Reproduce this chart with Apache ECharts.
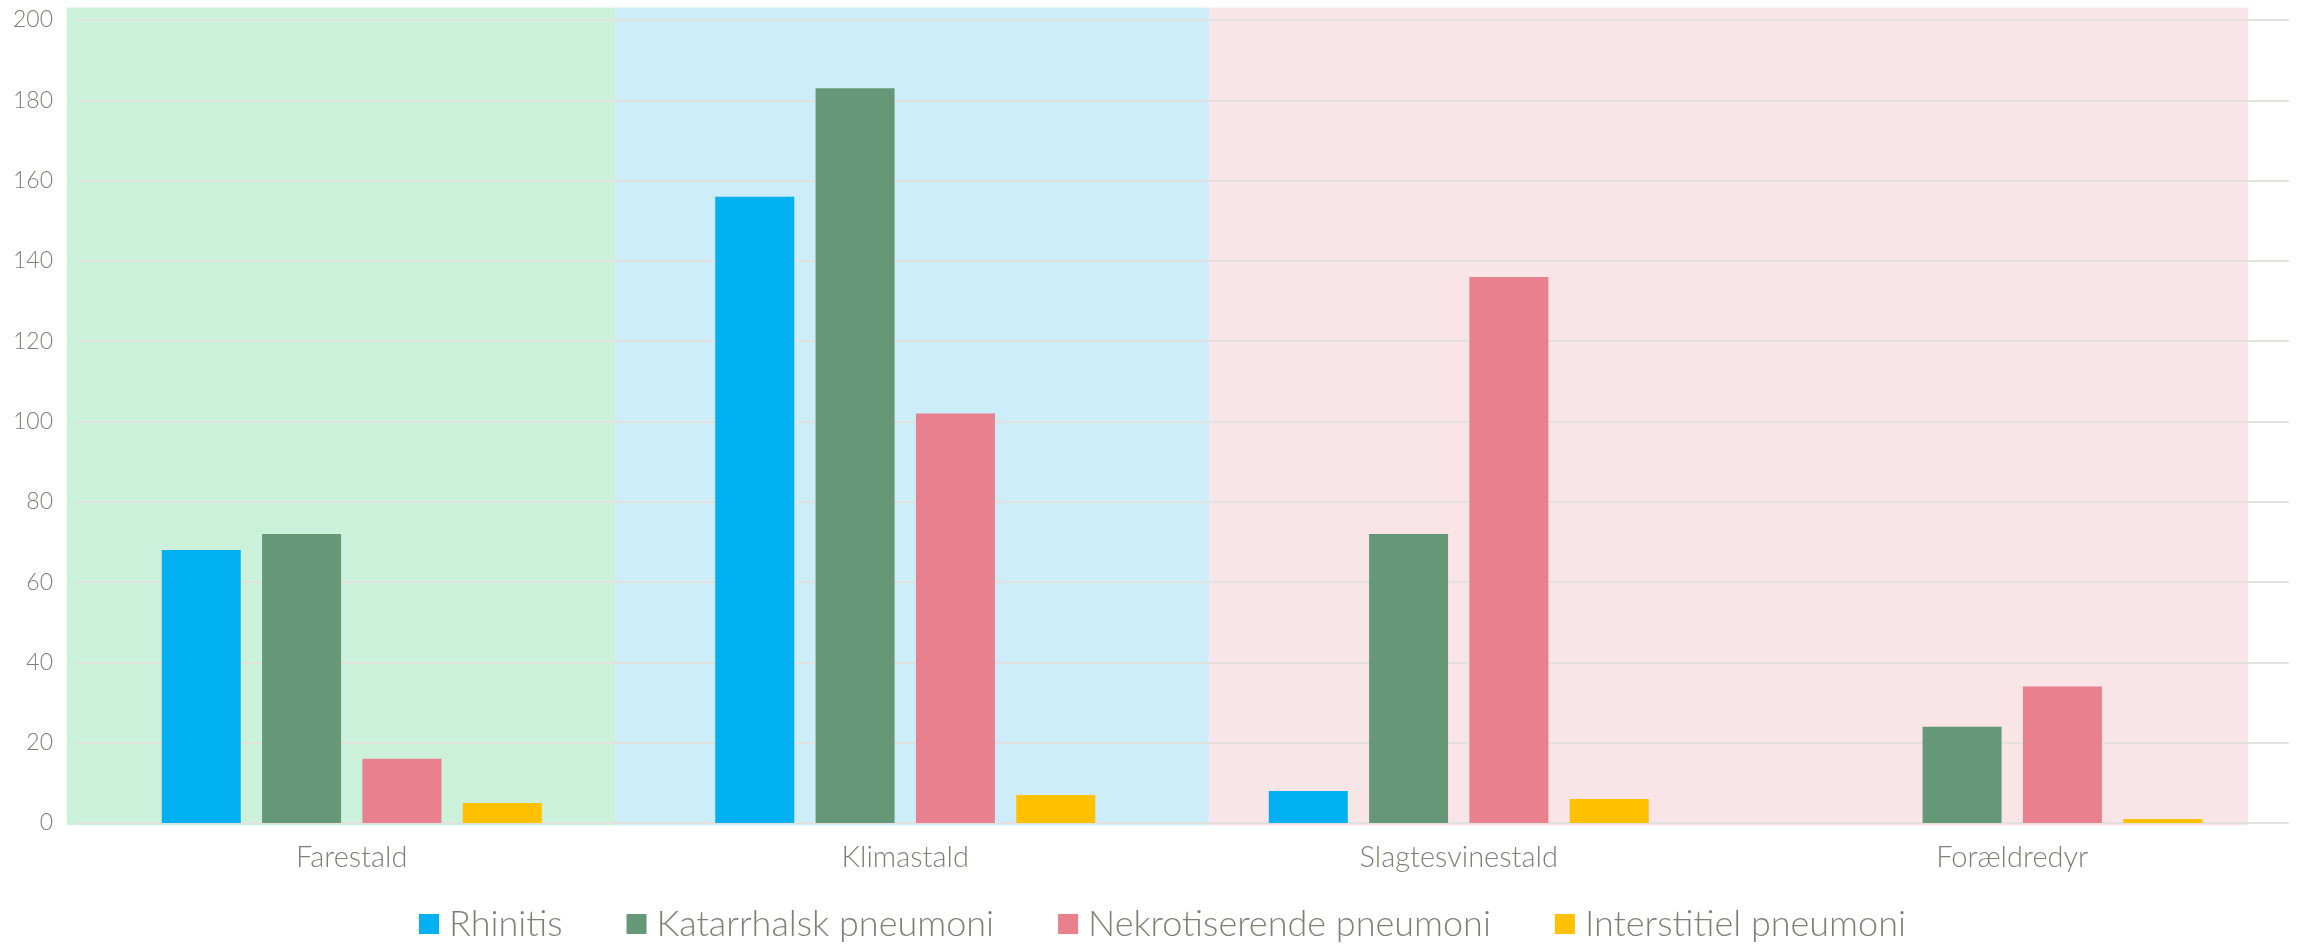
<!DOCTYPE html>
<html>
<head>
<meta charset="utf-8">
<script src="https://cdn.jsdelivr.net/npm/echarts@6/dist/echarts.min.js"></script>
<style>
html,body{margin:0;padding:0;background:#fff;}
#chart{width:2300px;height:944px;}
</style>
</head>
<body>
<div id="chart"></div>
<script>
// ---- data ----
const categories = ['Farestald', 'Klimastald', 'Slagtesvinestald', 'Forældredyr'];
const seriesNames = ['Rhinitis', 'Katarrhalsk pneumoni', 'Nekrotiserende pneumoni', 'Interstitiel pneumoni'];
const rhinitis = [68, 156, 8, 0];
const katarrhalsk = [72, 183, 72, 24];
const nekrotiserende = [16, 102, 136, 34];
const interstitiel = [5, 7, 6, 1];
const yTicks = [0, 20, 40, 60, 80, 100, 120, 140, 160, 180, 200];
// background bands: [start, end] in category units, value range [low, high]
const bandStarts = [-0.015, 0.977, 2.05];
const bandEnds = [0.977, 2.05, 3.926];
const bandLow = -0.57;
const bandHigh = 203.1;

const colors = ['#00B0F0', '#669878', '#E8808E', '#FFC000'];
const bandColors = ['#CCF1DA', '#CCEDF9', '#F9E5E8'];
const textColor = '#7F7F73';
const fontFamily = 'Lato, "Open Sans", sans-serif';

const chart = echarts.init(document.getElementById('chart'), null, {renderer: 'canvas'});

const seriesData = [rhinitis, katarrhalsk, nekrotiserende, interstitiel];

const bandData = bandStarts.map((s, i) => [s, bandEnds[i], bandLow, bandHigh, i]);

const option = {
  backgroundColor: '#ffffff',
  animation: false,
  grid: {left: 75, right: 11, top: 20, bottom: 121, containLabel: false},
  legend: {
    data: seriesNames,
    top: 901,
    left: 414,
    itemWidth: 20,
    itemHeight: 20,
    itemGap: 64,
    icon: 'rect',
    textStyle: {color: textColor, fontSize: 36, fontFamily: fontFamily, fontWeight: 300, padding: [0, 0, 0, 5]}
  },
  xAxis: [
    {
      type: 'category',
      data: categories,
      axisLine: {show: false},
      axisTick: {show: false},
      axisLabel: {color: textColor, fontSize: 29, fontFamily: fontFamily, fontWeight: 300, margin: 20}
    },
    {
      type: 'value',
      min: 0,
      max: 4,
      show: false
    }
  ],
  yAxis: {
    type: 'value',
    min: yTicks[0],
    max: yTicks[yTicks.length - 1],
    interval: yTicks[1] - yTicks[0],
    axisLine: {show: false},
    axisTick: {show: false},
    axisLabel: {color: textColor, fontSize: 23, fontFamily: fontFamily, fontWeight: 300, margin: 22},
    splitLine: {show: true, lineStyle: {color: '#E2E1DD', width: 2}}
  },
  series: [
    {
      type: 'custom',
      xAxisIndex: 1,
      z: -1,
      clip: false,
      silent: true,
      renderItem: function (params, api) {
        const p0 = api.coord([api.value(0), api.value(3)]);
        const p1 = api.coord([api.value(1), api.value(2)]);
        return {
          type: 'rect',
          shape: {x: p0[0], y: p0[1], width: p1[0] - p0[0], height: p1[1] - p0[1]},
          style: {fill: bandColors[api.value(4)]}
        };
      },
      encode: {x: [0, 1], y: [2, 3]},
      data: bandData
    }
  ].concat(seriesNames.map((name, i) => ({
    name: name,
    type: 'bar',
    data: seriesData[i],
    barWidth: 79,
    barGap: '27%',
    itemStyle: {color: colors[i]}
  })))
};

chart.setOption(option);
</script>
</body>
</html>
